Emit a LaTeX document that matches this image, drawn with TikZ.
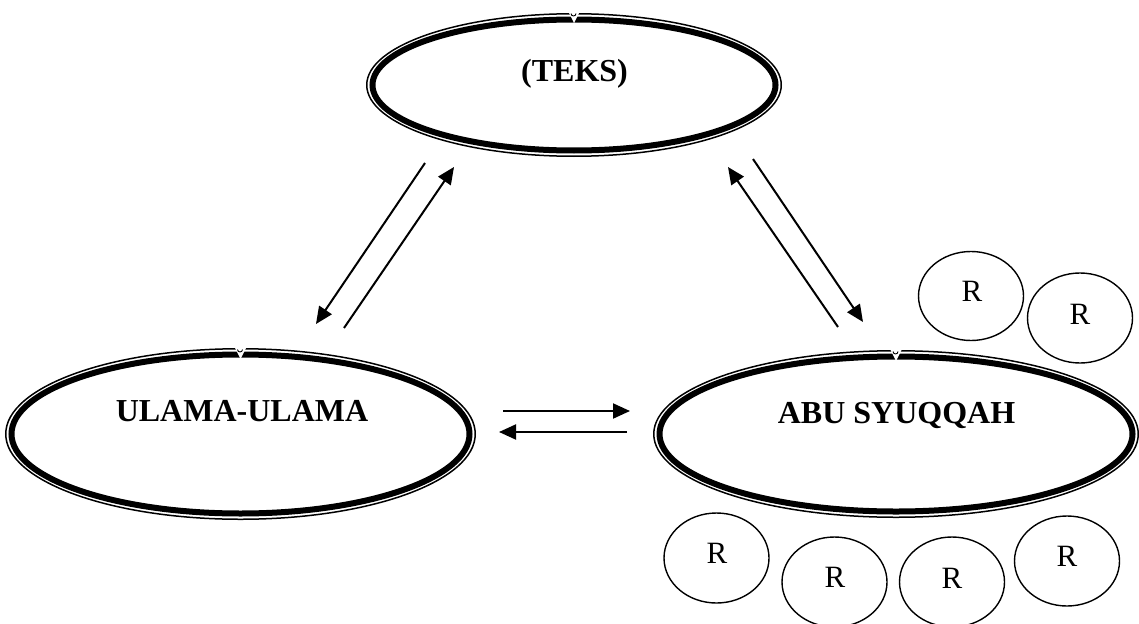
\documentclass[tikz,border=0pt]{standalone}
\usepackage{fontspec}
\setmainfont{Liberation Serif}
\usetikzlibrary{shapes.geometric,arrows.meta}
\begin{document}
\begin{tikzpicture}[x=1pt,y=-1pt,
  bigell/.style={ellipse, draw, line width=6pt, inner sep=0pt},
  thinell/.style={line width=1.5pt},
  notchcut/.style={white},
  titletext/.style={font=\fontsize{32}{38}\selectfont\bfseries, anchor=base, inner sep=0pt},
  rcirc/.style={ellipse, draw, line width=1.4pt, inner sep=0pt, minimum width=105pt, minimum height=89pt},
  rtext/.style={font=\fontsize{31}{36}\selectfont, anchor=base, inner sep=0pt},
  arr/.style={line width=2pt, -{Triangle[length=17pt,width=15pt]}}
]
\useasboundingbox (0,0) rectangle (1139,623);

% ---- main ellipses ----
\node[bigell, minimum width=403pt, minimum height=131pt] (teks) at (574,85) {};
\draw[thinell] (teks.center) ellipse [x radius=207.25pt, y radius=71.25pt];
\fill[notchcut] (teks.center) ++(-6,-74) -- ++(12,0) -- ++(-6,12) -- cycle;
\draw[line width=0.9pt] (teks.center) ++(-3,-71.5) arc[start angle=180, end angle=360, radius=2.5pt];
\node[titletext] (teksL) at (574.5,82) {(TEKS)};

\node[bigell, minimum width=458pt, minimum height=159pt] (ulama) at (240.5,434) {};
\draw[thinell] (ulama.center) ellipse [x radius=234.75pt, y radius=85.25pt];
\fill[notchcut] (ulama.center) ++(-6,-87) -- ++(12,0) -- ++(-6,12) -- cycle;
\draw[line width=0.9pt] (ulama.center) ++(-3,-84.5) arc[start angle=180, end angle=360, radius=2.5pt];
\node[titletext] (ulamaL) at (242,421) {ULAMA-ULAMA};

\node[bigell, minimum width=473pt, minimum height=155pt] (abu) at (896,434) {};
\draw[thinell] (abu.center) ellipse [x radius=242.25pt, y radius=83.25pt];
\fill[notchcut] (abu.center) ++(-6,-85) -- ++(12,0) -- ++(-6,12) -- cycle;
\draw[line width=0.9pt] (abu.center) ++(-3,-82.5) arc[start angle=180, end angle=360, radius=2.5pt];
\node[titletext] (abuL) at (896.5,423) {ABU SYUQQAH};

% ---- R circles ----
\node[rcirc] (r1) at (971,296) {};
\node[rtext] (r1L) at (972,301) {R};
\node[rcirc, minimum height=90pt] (r2) at (1080,318) {};
\node[rtext] (r2L) at (1080,324) {R};
\node[rcirc, minimum height=90pt] (r3) at (716.5,558) {};
\node[rtext] (r3L) at (717,563) {R};
\node[rcirc, minimum height=90pt] (r4) at (834.5,582) {};
\node[rtext] (r4L) at (835,587) {R};
\node[rcirc, minimum height=90pt] (r5) at (952,582) {};
\node[rtext] (r5L) at (952,588) {R};
\node[rcirc, minimum height=90pt] (r6) at (1067,561) {};
\node[rtext] (r6L) at (1067,566) {R};

% ---- arrow end points ----
\coordinate (a1s) at (425,163);  \coordinate (a1e) at (316,324);
\coordinate (a2s) at (344,328);  \coordinate (a2e) at (454,167);
\coordinate (a3s) at (838,327);  \coordinate (a3e) at (728,167);
\coordinate (a4s) at (753,159);  \coordinate (a4e) at (863,322);
\coordinate (a5s) at (503,411);  \coordinate (a5e) at (630,411);
\coordinate (a6s) at (627,432);  \coordinate (a6e) at (499,432);

\draw[arr] (a1s) -- (a1e);
\draw[arr] (a2s) -- (a2e);
\draw[arr] (a3s) -- (a3e);
\draw[arr] (a4s) -- (a4e);
\draw[arr] (a5s) -- (a5e);
\draw[arr] (a6s) -- (a6e);
\end{tikzpicture}
\end{document}
